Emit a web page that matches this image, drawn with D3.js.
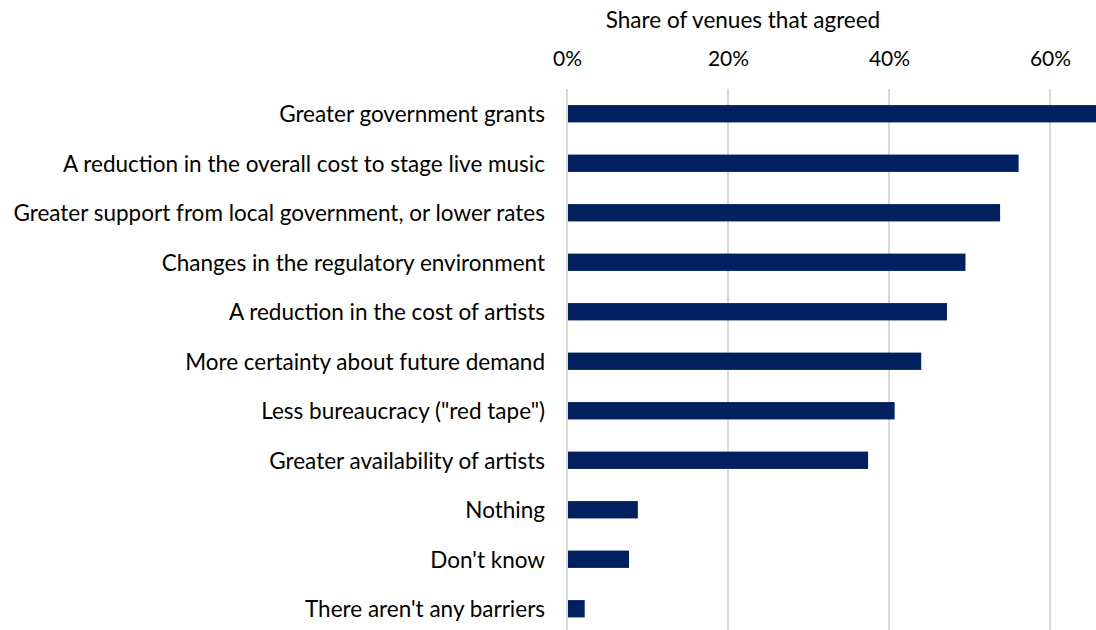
<!DOCTYPE html>
<html>
<head>
<meta charset="utf-8">
<script src="https://cdn.jsdelivr.net/npm/d3@7"></script>
<style>
  html, body { margin: 0; padding: 0; background: #fff; overflow: hidden; }
  svg { display: block; }
  text { font-family: Lato, "Open Sans", sans-serif; fill: #000; }
</style>
</head>
<body>
<div id="chart"></div>
<script>
// Barriers to staging more live music — share of venues that agreed
const categories = [
  "Greater government grants",
  "A reduction in the overall cost to stage live music",
  "Greater support from local government, or lower rates",
  "Changes in the regulatory environment",
  "A reduction in the cost of artists",
  "More certainty about future demand",
  "Less bureaucracy (\"red tape\")",
  "Greater availability of artists",
  "Nothing",
  "Don't know",
  "There aren't any barriers"
];
const shares = [0.67, 0.561, 0.538, 0.495, 0.472, 0.440, 0.407, 0.374, 0.088, 0.077, 0.022];
const tickValues = [0, 0.2, 0.4, 0.6];
const axisTitle = "Share of venues that agreed";

const W = 1096, H = 630;
const svg = d3.select("#chart").append("svg").attr("width", W).attr("height", H);

const x = d3.scaleLinear().domain([0, 0.6]).range([567, 1050]);
const y = d3.scaleBand().domain(categories).range([89, 633.5]).paddingInner(0.65).paddingOuter(0.325);

// vertical gridlines
svg.append("g").selectAll("line").data(tickValues).join("line")
  .attr("x1", d => x(d)).attr("x2", d => x(d))
  .attr("y1", 89).attr("y2", H)
  .attr("stroke", "#d9d9d9").attr("stroke-width", 2);

// top axis labels
const axis = d3.axisTop(x).tickValues(tickValues).tickFormat(d3.format(".0%")).tickSize(0).tickPadding(0);
const gAxis = svg.append("g").attr("transform", "translate(0,65.5)").call(axis);
gAxis.select(".domain").remove();
gAxis.selectAll("text").style("font-size", "21px").style("font-family", "Lato, 'Open Sans', sans-serif").attr("fill", "#000");

// axis title
svg.append("text").attr("x", 743).attr("y", 28).attr("text-anchor", "middle")
  .style("font-size", "22.5px").text(axisTitle);

// bars
svg.append("g").selectAll("rect").data(categories).join("rect")
  .attr("x", x(0) + 1)
  .attr("y", d => y(d))
  .attr("width", (d, i) => x(shares[i]) - x(0) - 1)
  .attr("height", y.bandwidth())
  .attr("fill", "#002060");

// category labels
const yAxis = d3.axisLeft(y).tickSize(0).tickPadding(0);
const gY = svg.append("g").attr("transform", "translate(545,1.5)").call(yAxis);
gY.select(".domain").remove();
gY.selectAll("text").style("font-size", "22.5px").style("font-family", "Lato, 'Open Sans', sans-serif").attr("fill", "#000");
</script>
</body>
</html>
